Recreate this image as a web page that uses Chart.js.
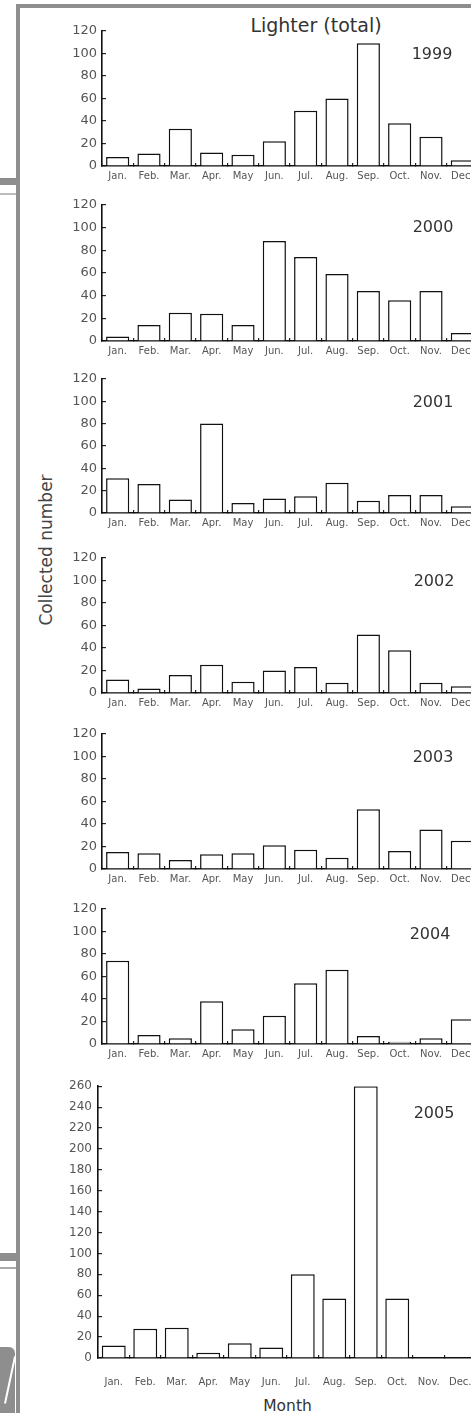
<!DOCTYPE html>
<html><head><meta charset="utf-8">
<script src="https://cdn.jsdelivr.net/npm/chart.js@4.4.1/dist/chart.umd.min.js"></script>
<style>
html,body{margin:0;padding:0;background:#fff;overflow:hidden;width:471px;height:1413px;}
#wrap{position:relative;width:471px;height:1413px;overflow:hidden;background:#fff;}
#wrap canvas{position:absolute;left:0;}
.txt{position:absolute;font-family:'DejaVu Sans',sans-serif;color:#333;white-space:nowrap;text-align:center;}
.g{position:absolute;background:#8e8e8e;}
</style></head><body><div id="wrap">
<div class="g" style="left:16px;top:4px;width:455px;height:4px;"></div>
<div class="g" style="left:16px;top:4px;width:4px;height:1409px;"></div>
<div class="g" style="left:0;top:178px;width:16px;height:7px;"></div>
<div class="g" style="left:0;top:193px;width:16px;height:2px;background:#bbb;"></div>
<div class="g" style="left:0;top:1253px;width:16px;height:8px;"></div>
<div class="g" style="left:0;top:1267px;width:16px;height:2px;background:#aaa;"></div>
<div class="g" style="left:0;top:1347px;width:15px;height:66px;border-top-right-radius:6px;"></div>
<div style="position:absolute;left:9px;top:1356px;width:2px;height:48px;background:#fff;transform:rotate(12deg);"></div>
<div class="txt" style="left:216px;top:14px;width:200px;font-size:19px;line-height:22px;">Lighter (total)</div>
<div class="txt" style="left:45.5px;top:550px;font-size:17px;line-height:20px;color:#444;transform:translate(-50%,-50%) rotate(-90deg);">Collected number</div>
<div class="txt" style="left:237.5px;top:1397px;width:100px;font-size:15.5px;line-height:18px;">Month</div>
</div>
<script>
// ---- data ----
const months = ['Jan.','Feb.','Mar.','Apr.','May','Jun.','Jul.','Aug.','Sep.','Oct.','Nov.','Dec.'];
const years  = ['1999','2000','2001','2002','2003','2004','2005'];
const v1999 = [8, 11, 33, 12, 10, 22, 49, 60, 109, 38, 26, 5];
const v2000 = [4, 14, 25, 24, 14, 88, 74, 59, 44, 36, 44, 7];
const v2001 = [31, 26, 12, 80, 9, 13, 15, 27, 11, 16, 16, 6];
const v2002 = [12, 4, 16, 25, 10, 20, 23, 9, 52, 38, 9, 6];
const v2003 = [15, 14, 8, 13, 14, 21, 17, 10, 53, 16, 35, 25];
const v2004 = [74, 8, 5, 38, 13, 25, 54, 66, 7, 2, 5, 22];
const v2005 = [12, 28, 29, 5, 14, 10, 80, 57, 260, 57, 0, 0];
const series = [v1999, v2000, v2001, v2002, v2003, v2004, v2005];
const yMax = [120, 120, 120, 120, 120, 120, 260];
const yStep = 20;

// ---- layout (pixels) ----
const layout = [
  {top:24,  bottom:166,  left:102, right:478, yearX:432, yearDy:24.5, xh:22, xpad:7},
  {top:198, bottom:341,  left:102, right:478, yearX:433, yearDy:23.5, xh:22, xpad:7},
  {top:372, bottom:513,  left:102, right:478, yearX:433, yearDy:24.5, xh:22, xpad:7},
  {top:551, bottom:693,  left:102, right:478, yearX:434, yearDy:24.5, xh:22, xpad:7},
  {top:727, bottom:869,  left:102, right:478, yearX:433, yearDy:24.5, xh:22, xpad:7},
  {top:902, bottom:1044, left:102, right:478, yearX:430, yearDy:26,   xh:22, xpad:7},
  {top:1079,bottom:1358, left:98,  right:476, yearX:434, yearDy:27.7, xh:34, xpad:21}
];

const yearPlugin = {
  id:'yearLabel',
  afterDraw(chart, args, opts){
    const {ctx, chartArea} = chart;
    ctx.save();
    ctx.font = '16px "DejaVu Sans"';
    ctx.fillStyle = '#333';
    ctx.textAlign = 'center';
    ctx.textBaseline = 'middle';
    ctx.fillText(opts.text, opts.x, chartArea.top + opts.dy);
    ctx.restore();
  }
};

const wrap = document.getElementById('wrap');
const W = 510, padTop = 10;
const tickFont = {family:'DejaVu Sans', size:10};

series.forEach((vals, i) => {
  const p = layout[i];
  const last = i === series.length - 1;
  const H = padTop + (p.bottom - p.top) + p.xh;
  const cv = document.createElement('canvas');
  cv.width = W; cv.height = H;
  cv.style.top = (p.top - padTop) + 'px';
  cv.style.width = W + 'px'; cv.style.height = H + 'px';
  wrap.appendChild(cv);

  new Chart(cv, {
    type:'bar',
    data:{labels:months, datasets:[{
      data:vals,
      backgroundColor:'rgba(255,255,255,0.95)',
      borderColor:'#111',
      borderWidth:1.5,
      barPercentage: last ? 0.76 : 0.74,
      categoryPercentage:1.0
    }]},
    options:{
      responsive:false, animation:false, devicePixelRatio:1,
      layout:{padding:{top:padTop, right:W - p.right, left:0, bottom:0}},
      plugins:{legend:{display:false}, tooltip:{enabled:false}, title:{display:false},
        yearLabel:{text:years[i], x:p.yearX, dy:p.yearDy}},
      scales:{
        x: {
          type:'category', position:'bottom', offset:true,
          grid:{display:true, drawOnChartArea:false, offset:true, drawTicks:true, tickLength:-3, color:'#222', lineWidth:1.2},
          border:{display:true, color:'#111', width:1.6},
          ticks:{autoSkip:false, maxRotation:0, minRotation:0, padding:p.xpad, color:'#555', font:tickFont},
          afterFit: s => { s.height = p.xh; }
        },
        y: {
          type:'linear', position:'left', min:0, max:yMax[i],
          ticks:{stepSize:yStep, padding:last ? 10 : 9, color:'#555', font:{family:'DejaVu Sans', size:last ? 12 : 13}},
          grid:{drawOnChartArea:false, drawTicks:true, tickLength:-4, color:'#222', lineWidth:1.2},
          border:{display:true, color:'#111', width:1.6},
          afterFit: s => { s.width = p.left; }
        }
      }
    },
    plugins:[yearPlugin]
  });
});
</script>
</body></html>
